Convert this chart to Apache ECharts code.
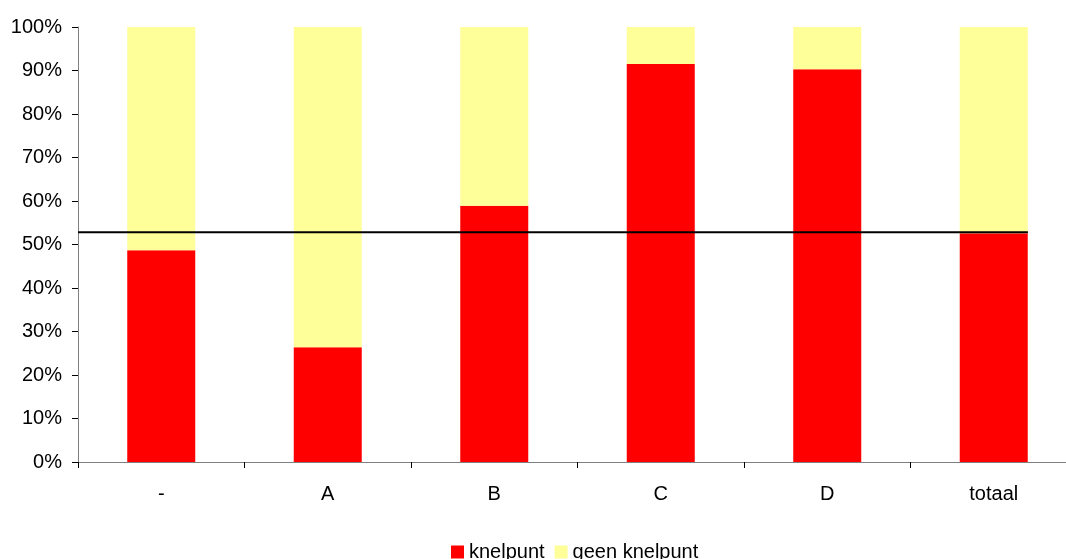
<!DOCTYPE html>
<html>
<head>
<meta charset="utf-8">
<script src="https://cdn.jsdelivr.net/npm/echarts@6/dist/echarts.min.js"></script>
<style>html,body{margin:0;padding:0;background:#fff;overflow:hidden;width:1066px;height:559px}#c{width:1077px;height:559px}</style>
</head>
<body>
<div id="c"></div>
<script>
var categories = ['-', 'A', 'B', 'C', 'D', 'totaal'];
var knelpunt = [48.7, 26.4, 58.9, 91.5, 90.3, 52.6];
var geenKnelpunt = [51.3, 73.6, 41.1, 8.5, 9.7, 47.4];
var referenceLevel = 52.8;
var referenceEnd = 5.705;

var chart = echarts.init(document.getElementById('c'));
var font = 'Liberation Sans, Arial, sans-serif';
chart.setOption({
  animation: false,
  backgroundColor: '#fff',
  grid: { left: 78, top: 27, right: 0, bottom: 97, containLabel: false },
  legend: {
    data: ['knelpunt', 'geen knelpunt'],
    left: 451, top: 542, padding: 0,
    itemWidth: 13, itemHeight: 13, itemGap: 10,
    icon: 'rect',
    textStyle: { fontFamily: font, fontSize: 20, color: '#000' }
  },
  xAxis: [{
    type: 'category',
    data: categories,
    axisLine: { lineStyle: { color: '#808080', width: 1 } },
    axisTick: { show: true, length: 6, lineStyle: { color: '#000' } },
    axisLabel: { fontFamily: font, fontSize: 20, color: '#000', margin: 22 },
    splitLine: { show: false }
  }, {
    type: 'value', min: 0, max: 6, show: false
  }],
  yAxis: {
    type: 'value', min: 0, max: 100, interval: 10,
    axisLine: { show: true, lineStyle: { color: '#808080', width: 1 } },
    axisTick: { show: true, length: 6, lineStyle: { color: '#000' } },
    axisLabel: { fontFamily: font, fontSize: 20, color: '#000', margin: 16, formatter: '{value}%' },
    splitLine: { show: false }
  },
  series: [{
    name: 'knelpunt', type: 'bar', stack: 's', data: knelpunt,
    barWidth: 68, itemStyle: { color: '#FF0000' }
  }, {
    name: 'geen knelpunt', type: 'bar', stack: 's', data: geenKnelpunt,
    barWidth: 68, itemStyle: { color: '#FFFF99' }
  }, {
    name: 'ref', type: 'line', xAxisIndex: 1,
    data: [[0, referenceLevel], [referenceEnd, referenceLevel]],
    symbol: 'none', lineStyle: { color: '#000', width: 2 }, z: 5
  }]
});
</script>
</body>
</html>
